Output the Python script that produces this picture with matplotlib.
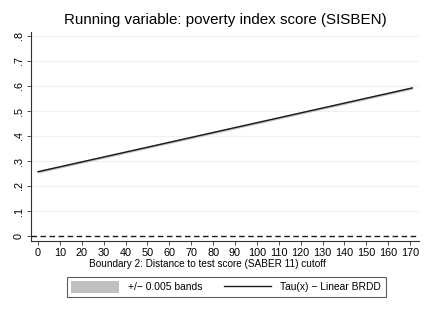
import matplotlib
matplotlib.use("Agg")
import matplotlib.pyplot as plt
import numpy as np

plt.rcParams['font.family'] = ['Liberation Sans', 'DejaVu Sans']

# estimated linear BRDD fit
dist = np.array([0, 171])
tau = np.array([0.257, 0.592])
band = 0.005

xticks = list(range(0, 171, 10))
yticks = [0, .1, .2, .3, .4, .5, .6, .7, .8]
ylabels = ['0', '.1', '.2', '.3', '.4', '.5', '.6', '.7', '.8']

fig = plt.figure(figsize=(4.3, 3.13), dpi=100)
ax = fig.add_axes([0.072, 0.23, 0.902, 0.668])

for y in yticks[1:]:
    ax.axhline(y, color='#eaf2f3', lw=0.8, zorder=0)

band_h = ax.fill_between(dist, tau - band, tau + band, color='#c0c0c0', lw=0,
                         label='+/\u2212 0.005 bands', zorder=2)
line_h, = ax.plot(dist, tau, color='#1a1a1a', lw=1.0,
                  label='Tau(x) \u2212 Linear BRDD', zorder=3)
ax.axhline(0, color='#1a1a1a', lw=1.0, ls=(0, (4, 2.5)), zorder=3)

ax.set_xlim(-3.2, 174)
ax.set_ylim(-0.02, 0.816)
ax.set_xticks(xticks)
ax.set_yticks(yticks)
ax.set_yticklabels(ylabels, rotation=90, va='center')
ax.tick_params(labelsize=7.8, length=3, width=0.6, color='#333333', pad=2)
for s in ['top', 'right']:
    ax.spines[s].set_visible(False)
for s in ['left', 'bottom']:
    ax.spines[s].set_linewidth(0.8)
    ax.spines[s].set_color('#333333')

ax.set_title('Running variable: poverty index score (SISBEN)', fontsize=10.9, pad=6)
ax.set_xlabel('Boundary 2: Distance to test score (SABER 11) cutoff', fontsize=7.2,
              labelpad=0)
ax.xaxis.set_label_coords(0.455, -0.085)

leg = fig.legend(handles=[band_h, line_h], loc='center', bbox_to_anchor=(0.526, 0.083),
                 ncol=2, fontsize=7.4, frameon=True, fancybox=False, handlelength=4.6,
                 handleheight=1.3, columnspacing=2.1, borderpad=0.45, handletextpad=0.9,
                 borderaxespad=0)
leg.get_frame().set_edgecolor('#333333')
leg.get_frame().set_linewidth(0.8)

fig.savefig('out.png', dpi=100)
